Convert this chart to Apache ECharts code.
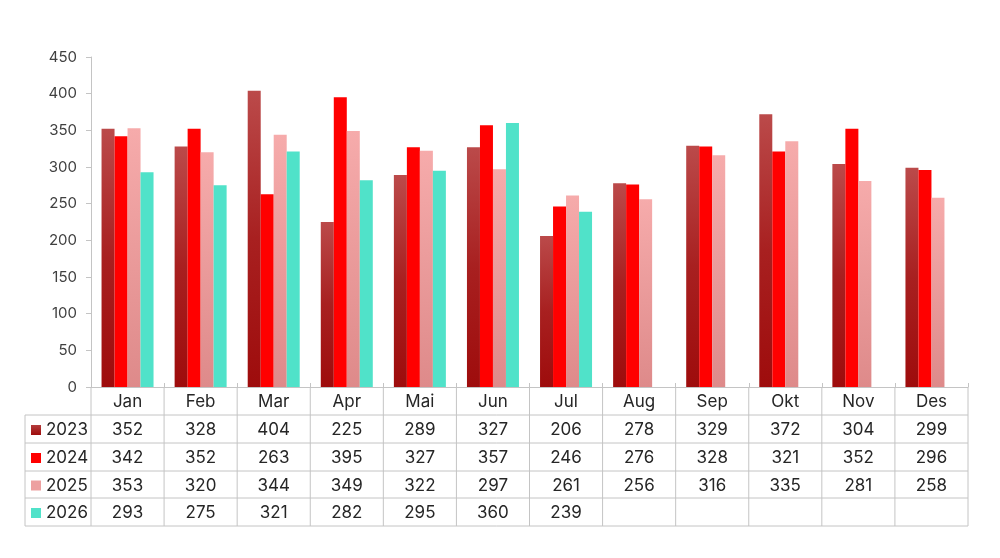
<!DOCTYPE html>
<html>
<head>
<meta charset="utf-8">
<script src="https://cdn.jsdelivr.net/npm/echarts@6/dist/echarts.min.js"></script>
<style>
  html, body { margin: 0; padding: 0; background: #fff; }
  #main { width: 1000px; height: 558px; }
</style>
</head>
<body>
<div id="main"></div>
<script>
// data
const months = ['Jan', 'Feb', 'Mar', 'Apr', 'Mai', 'Jun', 'Jul', 'Aug', 'Sep', 'Okt', 'Nov', 'Des'];
const years = ['2023', '2024', '2025', '2026'];
const v2023 = [352, 328, 404, 225, 289, 327, 206, 278, 329, 372, 304, 299];
const v2024 = [342, 352, 263, 395, 327, 357, 246, 276, 328, 321, 352, 296];
const v2025 = [353, 320, 344, 349, 322, 297, 261, 256, 316, 335, 281, 258];
const v2026 = [293, 275, 321, 282, 295, 360, 239];
const yMax = 450;
const yStep = 50;

const FONT = 'Inter, "Open Sans", sans-serif';
const LINE = '#c4c4c4';

// bar fills, one per year
const fills = [
    new echarts.graphic.LinearGradient(0, 0, 0, 1, [
        { offset: 0, color: '#bb4a4a' },
        { offset: 0.5, color: '#a82020' },
        { offset: 1, color: '#9e0c0c' }
    ]),
    '#ff0000',
    new echarts.graphic.LinearGradient(0, 0, 0, 1, [
        { offset: 0, color: '#f6abab' },
        { offset: 1, color: '#de8a8a' }
    ]),
    '#50e2c9'
];
const swatch = [
    new echarts.graphic.LinearGradient(0, 0, 0, 1, [
        { offset: 0, color: '#b43c3c' },
        { offset: 1, color: '#9e0c0c' }
    ]),
    '#ff0000', '#eda0a0', '#50e2c9'
];
const allValues = [v2023, v2024, v2025, v2026];

let dom = document.getElementById('main');
let myChart = echarts.init(dom);

const grid = { left: 91, right: 32, top: 57, bottom: 171 };

myChart.setOption({
    animation: false,
    grid: grid,
    xAxis: {
        type: 'category',
        data: months,
        axisLine: { lineStyle: { color: LINE } },
        axisTick: { show: true, inside: true, length: 4, lineStyle: { color: LINE } },
        axisLabel: { show: false }
    },
    yAxis: {
        type: 'value',
        min: 0,
        max: yMax,
        interval: yStep,
        axisLine: { show: true, lineStyle: { color: LINE } },
        axisTick: { show: true, length: 5, lineStyle: { color: LINE } },
        splitLine: { show: false },
        axisLabel: { color: '#404040', fontSize: 15, fontFamily: FONT, margin: 14 }
    },
    series: years.map((y, k) => ({
        name: y,
        type: 'bar',
        data: allValues[k],
        barWidth: 13,
        barGap: '0%',
        itemStyle: { color: fills[k] }
    }))
});

// data table under the plot
function drawTable() {
    const plotL = grid.left, plotR = 1000 - grid.right;
    const colW = (plotR - plotL) / months.length;
    const top = 558 - grid.bottom;
    const rowH = [28, 28, 28, 27, 28];
    const rowY = [top];
    rowH.forEach(h => rowY.push(rowY[rowY.length - 1] + h));
    const tableL = 25;
    const bottom = rowY[rowY.length - 1];
    const els = [];
    const line = (x1, y1, x2, y2) => els.push({
        type: 'line', shape: { x1, y1, x2, y2 }, style: { stroke: LINE, lineWidth: 1 }, silent: true
    });
    const text = (t, x, y, align) => els.push({
        type: 'text', x, y, silent: true,
        style: { text: t, fill: '#262626', fontSize: 17, fontFamily: FONT, align: align || 'center', verticalAlign: 'middle' }
    });

    // horizontal lines
    for (let r = 1; r < rowY.length; r++) line(tableL, rowY[r], plotR, rowY[r]);
    // vertical lines
    line(tableL, rowY[1], tableL, bottom);
    for (let i = 0; i <= months.length; i++) {
        const x = plotL + i * colW;
        line(x, top, x, bottom);
    }
    // header
    months.forEach((m, i) => {
        const cx = myChart.convertToPixel({ xAxisIndex: 0 }, i);
        text(m, cx, (rowY[0] + rowY[1]) / 2 + 1);
    });
    // rows
    years.forEach((y, k) => {
        const cy = (rowY[k + 1] + rowY[k + 2]) / 2 + 1;
        els.push({ type: 'rect', shape: { x: 31, y: cy - 5, width: 10, height: 10 }, style: { fill: swatch[k] }, silent: true });
        text(y, 46, cy, 'left');
        allValues[k].forEach((v, i) => {
            const cx = myChart.convertToPixel({ xAxisIndex: 0 }, i);
            text(String(v), cx, cy);
        });
    });
    myChart.setOption({ graphic: { elements: els } });
}
drawTable();
</script>
</body>
</html>
